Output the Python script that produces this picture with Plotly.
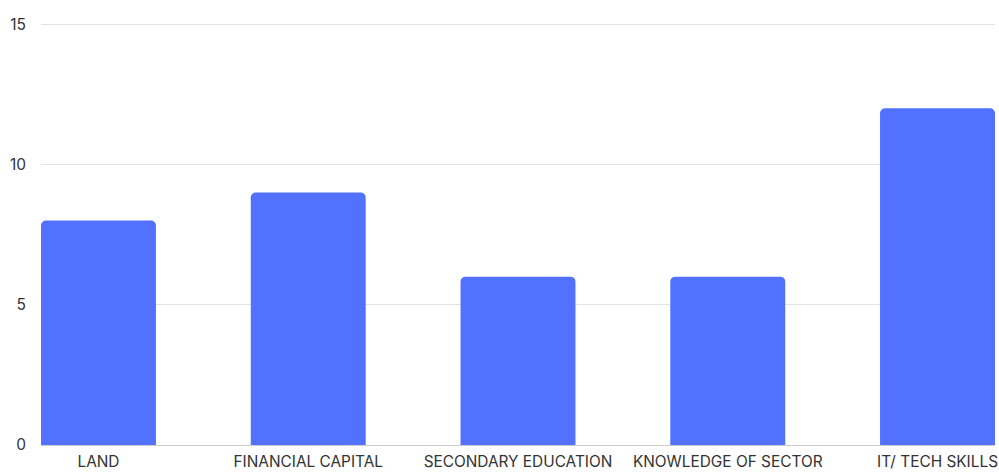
import plotly.graph_objects as go

categories = ["LAND", "FINANCIAL CAPITAL", "SECONDARY EDUCATION", "KNOWLEDGE OF SECTOR", "IT/ TECH SKILLS"]
values = [8, 9, 6, 6, 12]
y_ticks = [0, 5, 10, 15]

fig = go.Figure(
    go.Bar(
        x=categories,
        y=values,
        marker=dict(color="#5271FF", line=dict(width=0)),
        hoverinfo="x+y",
    )
)

fig.update_layout(
    width=999,
    height=472,
    margin=dict(l=41, r=4, t=23, b=27),
    paper_bgcolor="white",
    plot_bgcolor="white",
    bargap=0.452,
    barcornerradius=5,
    showlegend=False,
    font=dict(family="Inter", size=14, color="#333333"),
)

fig.update_xaxes(
    range=[-0.274, 4.274],
    automargin=False,
    showgrid=False,
    showline=True,
    linecolor="#cccccc",
    linewidth=1,
    ticks="",
    ticklabelstandoff=3,
    tickfont=dict(family="Inter", size=15.4, color="#333333"),
)

fig.update_yaxes(
    range=[0, 15.04],
    automargin=False,
    tickvals=y_ticks,
    showgrid=True,
    gridcolor="#e3e3e3",
    gridwidth=1,
    zeroline=False,
    ticks="",
    ticklabelstandoff=14,
    tickfont=dict(family="Inter", size=15.5, color="#333333"),
)

fig.write_html("out.html")
